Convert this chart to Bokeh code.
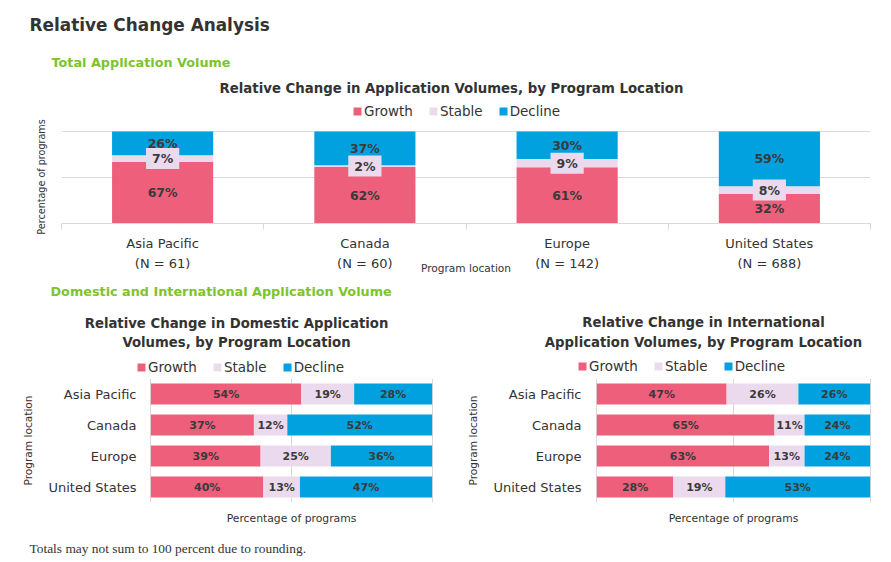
import numpy as np
from bokeh.plotting import figure
from bokeh.models import (ColumnDataSource, FactorRange, Range1d, FixedTicker,
                          Label, Legend, LegendItem)
from bokeh.layouts import column, row
from bokeh.embed import file_html
from bokeh.resources import INLINE
from bokeh.core.properties import value

# ---------------- data ----------------
series = ["Growth", "Stable", "Decline"]

total_locations = ["Asia Pacific", "Canada", "Europe", "United States"]
total_n = [61, 60, 142, 688]
total_growth = [67, 62, 61, 32]
total_stable = [7, 2, 9, 8]
total_decline = [26, 37, 30, 59]

locations = ["Asia Pacific", "Canada", "Europe", "United States"]
dom_growth = [54, 37, 39, 40]
dom_stable = [19, 12, 25, 13]
dom_decline = [28, 52, 36, 47]
intl_growth = [47, 65, 63, 28]
intl_stable = [26, 11, 13, 19]
intl_decline = [26, 24, 24, 53]

grid_ticks = [0, 50, 100]

# ---------------- style ----------------
FONT = "DejaVu Sans"
SERIF = "Liberation Serif"
COLORS = ["#EE5F7B", "#EBDAEE", "#00A1DE"]
GREEN = "#7DC42B"
TEXT_C = "#333333"
LABEL_C = "#3A3A3A"
GRID_C = "#D9D9D9"
W = 891
LEG_H = 16


def stacked(g, s, d):
    g, s, d = (np.array(v, dtype=float) for v in (g, s, d))
    tot = g + s + d
    gn, sn, dn = g / tot * 100, s / tot * 100, d / tot * 100
    return gn, sn, dn, gn / 2, gn + sn / 2, gn + sn + dn / 2


def text_figure(width, height):
    p = figure(width=width, height=height, x_range=Range1d(0, 1), y_range=Range1d(0, 1),
               x_axis_type=None, y_axis_type=None, output_backend="svg",
               toolbar_location=None, min_border=0, outline_line_color=None,
               background_fill_color="white", border_fill_color="white")
    p.xgrid.visible = False
    p.ygrid.visible = False
    return p


def add_label(p, text, cx, cy, size, bold=False, color=TEXT_C, align="left",
              font=FONT, line_height=1.2):
    # (cx, cy) measured from the top-left of a text-only figure
    p.add_layout(Label(x=cx, y=p.height - cy, x_units="screen", y_units="screen",
                       text=text, text_font=font, text_font_size=size,
                       text_font_style="bold" if bold else "normal",
                       text_color=color, text_align=align, text_baseline="middle",
                       text_line_height=line_height))


def add_key_legend(p, left_x, center_y):
    # colour keys (same colours as the stacked bars) for a legend drawn in a text figure
    keys = ColumnDataSource(dict(x=[np.nan], top=[np.nan]))
    proxies = [p.vbar(x="x", top="top", width=0.1, color=c, line_color=None, source=keys)
               for c in COLORS]
    items = [LegendItem(label=s, renderers=[r]) for s, r in zip(series, proxies)]
    p.add_layout(Legend(items=items, orientation="horizontal",
                        location=(left_x, p.height - center_y - LEG_H / 2),
                        glyph_width=10, glyph_height=10, label_standoff=2, spacing=15,
                        padding=0, margin=0, border_line_color=None,
                        background_fill_alpha=0, label_text_font=FONT,
                        label_text_font_size="13.5px", label_text_color=TEXT_C,
                        label_height=LEG_H, label_width=10))


def bar_labels(p, src, orient, size, stable_bg):
    for pos, txt in (("gm", "gl"), ("sm", "sl"), ("dm", "dl")):
        kw = dict(text=txt, source=src, text_align="center", text_baseline="middle",
                  text_font=value(FONT), text_font_style="bold", text_font_size=size,
                  text_color=LABEL_C)
        if txt == "sl" and stable_bg:
            kw.update(background_fill_color=COLORS[1], padding=(6, 3))
        if orient == "v":
            p.text(x="x", y=pos, **kw)
        else:
            p.text(x=pos, y="loc", **kw)


# ---------------- header (0..119) ----------------
head1 = text_figure(W, 119)
add_label(head1, "Relative Change Analysis", 29, 24, "16.9px", bold=True)
add_label(head1, "Total Application Volume", 51, 62, "12.8px", bold=True, color=GREEN)
add_label(head1, "Relative Change in Application Volumes, by Program Location",
          451, 88, "13.3px", bold=True, align="center")
add_key_legend(head1, 352, 111)

# ---------------- top chart (119..280) ----------------
H1 = 161
FL, FR, FT, FB = 61, 870, 11, 104
gn, sn, dn, gm, sm, dm = stacked(total_growth, total_stable, total_decline)
xc = np.arange(len(total_locations)) + 0.5
src = ColumnDataSource(dict(x=xc, g=gn, s=sn, d=dn, gm=gm, sm=sm, dm=dm,
                            gl=[f"{v}%" for v in total_growth],
                            sl=[f"{v}%" for v in total_stable],
                            dl=[f"{v}%" for v in total_decline]))

top = figure(width=W, height=H1, x_range=Range1d(0, len(total_locations)),
             y_range=Range1d(0, 101), output_backend="svg", toolbar_location=None,
             min_border_left=FL, min_border_right=W - FR, min_border_top=FT,
             min_border_bottom=H1 - FB, outline_line_color=None,
             background_fill_color="white", border_fill_color="white")
top.vbar_stack(["g", "s", "d"], x="x", width=0.5, color=COLORS,
               line_color=None, source=src)
bar_labels(top, src, "v", "12.5px", True)

top.xaxis.ticker = FixedTicker(ticks=list(xc),
                               minor_ticks=list(range(len(total_locations) + 1)))
top.xaxis.major_label_overrides = {float(c): f"{loc}\n(N = {n})"
                                   for c, loc, n in zip(xc, total_locations, total_n)}
top.xaxis.major_tick_out = 0
top.xaxis.major_tick_in = 0
top.xaxis.minor_tick_out = 6
top.xaxis.minor_tick_in = 0
top.xaxis.minor_tick_line_color = GRID_C
top.xaxis.axis_line_color = GRID_C
top.xaxis.major_label_text_font = FONT
top.xaxis.major_label_text_font_size = "13px"
top.xaxis.major_label_text_color = TEXT_C
top.xaxis.major_label_text_line_height = 1.35
top.xaxis.major_label_standoff = 6
top.xaxis.axis_label = "Program location"
top.xaxis.axis_label_text_font = FONT
top.xaxis.axis_label_text_font_size = "10.6px"
top.xaxis.axis_label_text_font_style = "normal"
top.xaxis.axis_label_text_color = TEXT_C
top.xaxis.axis_label_standoff = -12
top.xgrid.visible = False
top.yaxis.ticker = FixedTicker(ticks=[])
top.yaxis.major_tick_out = 0
top.yaxis.major_tick_in = 0
top.yaxis.axis_line_color = None
top.yaxis.axis_label = "Percentage of programs"
top.yaxis.axis_label_text_font = FONT
top.yaxis.axis_label_text_font_size = "9.6px"
top.yaxis.axis_label_text_font_style = "normal"
top.yaxis.axis_label_text_color = TEXT_C
top.yaxis.axis_label_standoff = 15
top.ygrid.ticker = FixedTicker(ticks=grid_ticks)
top.ygrid.grid_line_color = GRID_C

# ---------------- header 2 (280..376) ----------------
head2 = text_figure(W, 96)
add_label(head2, "Domestic and International Application Volume", 50, 11, "12.8px",
          bold=True, color=GREEN)
add_label(head2, "Relative Change in Domestic Application\nVolumes, by Program Location",
          236, 52.5, "13.25px", bold=True, align="center", line_height=1.3)
add_label(head2, "Relative Change in International\nApplication Volumes, by Program Location",
          703, 52, "13.25px", bold=True, align="center", line_height=1.3)
add_key_legend(head2, 136, 87)
add_key_legend(head2, 577, 86)


# ---------------- bottom charts (376..532) ----------------
def bottom_chart(width, fl, fr, g, s, d, ytick_standoff, ylabel_standoff):
    H2 = 156
    ft, fb = 2, 126
    gn, sn, dn, gm, sm, dm = stacked(g, s, d)
    src = ColumnDataSource(dict(loc=locations, g=gn, s=sn, d=dn, gm=gm, sm=sm, dm=dm,
                                gl=[f"{v}%" for v in g],
                                sl=[f"{v}%" for v in s],
                                dl=[f"{v}%" for v in d]))
    p = figure(width=width, height=H2, x_range=Range1d(-0.5, 100.5),
               y_range=FactorRange(factors=list(reversed(locations)), range_padding=0),
               output_backend="svg", toolbar_location=None,
               min_border_left=fl, min_border_right=width - fr, min_border_top=ft,
               min_border_bottom=H2 - fb, outline_line_color=None,
               background_fill_color="white", border_fill_color="white")
    p.hbar_stack(["g", "s", "d"], y="loc", height=0.68, color=COLORS,
                 line_color=None, source=src)
    bar_labels(p, src, "h", "11px", False)
    p.xaxis.ticker = FixedTicker(ticks=[])
    p.xaxis.major_tick_out = 0
    p.xaxis.major_tick_in = 0
    p.xaxis.axis_line_color = None
    p.xaxis.axis_label = "Percentage of programs"
    p.xaxis.axis_label_text_font = FONT
    p.xaxis.axis_label_text_font_size = "10.8px"
    p.xaxis.axis_label_text_font_style = "normal"
    p.xaxis.axis_label_text_color = TEXT_C
    p.xaxis.axis_label_standoff = 9
    p.xgrid.ticker = FixedTicker(ticks=grid_ticks)
    p.xgrid.grid_line_color = GRID_C
    p.ygrid.visible = False
    p.yaxis.major_tick_out = 0
    p.yaxis.major_tick_in = 0
    p.yaxis.axis_line_color = None
    p.yaxis.major_label_text_font = FONT
    p.yaxis.major_label_text_font_size = "13px"
    p.yaxis.major_label_text_color = TEXT_C
    p.yaxis.major_label_standoff = ytick_standoff
    p.yaxis.axis_label = "Program location"
    p.yaxis.axis_label_text_font = FONT
    p.yaxis.axis_label_text_font_size = "10.6px"
    p.yaxis.axis_label_text_font_style = "normal"
    p.yaxis.axis_label_text_color = TEXT_C
    p.yaxis.axis_label_standoff = ylabel_standoff
    return p


left = bottom_chart(445, 149, 433, dom_growth, dom_stable, dom_decline, 13, 11)
right = bottom_chart(446, 150, 426, intl_growth, intl_stable, intl_decline, 14, 11)

# ---------------- footer (532..562) ----------------
foot = text_figure(W, 30)
add_label(foot, "Totals may not sum to 100 percent due to rounding.", 29, 16, "13.4px",
          font=SERIF)

layout = column(row(head1), row(top), row(head2), row(left, right, spacing=0), row(foot),
                spacing=0)
open("out.html", "w").write(file_html(layout, INLINE))
